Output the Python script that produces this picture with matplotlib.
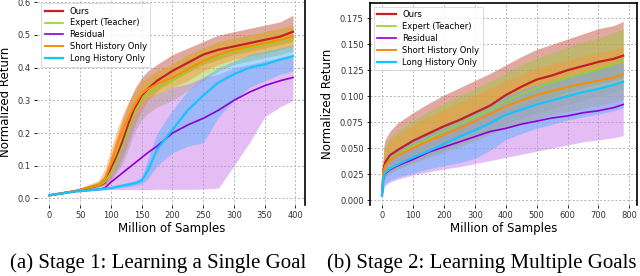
import numpy as np
import matplotlib
matplotlib.use("Agg")
import matplotlib.pyplot as plt

# ---- Stage 1 data (Million of Samples) ----
x_a = [0, 40, 80, 90, 100, 110, 120, 130, 140, 150, 160, 175, 200, 225, 250, 275, 300, 325, 350, 375, 396]
ours_a = [0.010, 0.022, 0.040, 0.048, 0.090, 0.130, 0.180, 0.235, 0.280, 0.315, 0.335, 0.360, 0.390, 0.415, 0.440, 0.455, 0.465, 0.475, 0.485, 0.495, 0.510]
ours_a_lo = [0.008, 0.020, 0.035, 0.042, 0.060, 0.090, 0.130, 0.180, 0.230, 0.270, 0.300, 0.330, 0.360, 0.385, 0.410, 0.425, 0.440, 0.450, 0.460, 0.470, 0.480]
ours_a_hi = [0.012, 0.025, 0.050, 0.070, 0.130, 0.190, 0.250, 0.300, 0.340, 0.370, 0.390, 0.410, 0.440, 0.460, 0.480, 0.500, 0.510, 0.520, 0.530, 0.540, 0.560]
expert_a = [0.010, 0.022, 0.040, 0.050, 0.080, 0.120, 0.165, 0.220, 0.270, 0.300, 0.320, 0.340, 0.360, 0.390, 0.415, 0.435, 0.450, 0.460, 0.470, 0.480, 0.490]
expert_a_lo = [0.008, 0.020, 0.035, 0.042, 0.055, 0.080, 0.110, 0.160, 0.210, 0.240, 0.260, 0.280, 0.300, 0.330, 0.360, 0.390, 0.410, 0.420, 0.430, 0.440, 0.450]
expert_a_hi = [0.012, 0.025, 0.050, 0.070, 0.110, 0.160, 0.220, 0.280, 0.320, 0.350, 0.370, 0.390, 0.410, 0.440, 0.460, 0.480, 0.490, 0.500, 0.510, 0.520, 0.530]
resid_a = [0.010, 0.022, 0.028, 0.032, 0.050, 0.065, 0.080, 0.095, 0.110, 0.125, 0.140, 0.160, 0.200, 0.225, 0.245, 0.270, 0.300, 0.325, 0.345, 0.360, 0.370]
resid_a_lo = [0.008, 0.019, 0.025, 0.026, 0.027, 0.027, 0.027, 0.027, 0.027, 0.027, 0.027, 0.028, 0.028, 0.028, 0.029, 0.032, 0.100, 0.170, 0.250, 0.280, 0.300]
resid_a_hi = [0.012, 0.025, 0.035, 0.050, 0.080, 0.130, 0.200, 0.260, 0.290, 0.300, 0.310, 0.320, 0.340, 0.350, 0.370, 0.380, 0.400, 0.410, 0.420, 0.430, 0.440]
short_a = [0.010, 0.022, 0.042, 0.060, 0.105, 0.165, 0.215, 0.255, 0.290, 0.320, 0.335, 0.350, 0.370, 0.395, 0.420, 0.440, 0.455, 0.465, 0.475, 0.485, 0.495]
short_a_lo = [0.008, 0.020, 0.036, 0.045, 0.070, 0.120, 0.170, 0.210, 0.250, 0.280, 0.300, 0.320, 0.340, 0.360, 0.390, 0.410, 0.425, 0.435, 0.445, 0.455, 0.465]
short_a_hi = [0.012, 0.025, 0.055, 0.090, 0.150, 0.210, 0.260, 0.300, 0.330, 0.360, 0.370, 0.390, 0.410, 0.440, 0.460, 0.480, 0.490, 0.500, 0.510, 0.520, 0.530]
long_a = [0.010, 0.021, 0.028, 0.030, 0.032, 0.036, 0.040, 0.043, 0.047, 0.055, 0.085, 0.150, 0.210, 0.270, 0.315, 0.355, 0.380, 0.400, 0.410, 0.425, 0.435]
long_a_lo = [0.008, 0.019, 0.025, 0.027, 0.029, 0.031, 0.034, 0.037, 0.040, 0.045, 0.060, 0.100, 0.140, 0.160, 0.170, 0.250, 0.300, 0.340, 0.360, 0.380, 0.390]
long_a_hi = [0.012, 0.023, 0.031, 0.033, 0.036, 0.040, 0.045, 0.050, 0.055, 0.065, 0.120, 0.200, 0.270, 0.330, 0.370, 0.400, 0.420, 0.440, 0.450, 0.460, 0.470]

# ---- Stage 2 data ----
x_b = [0, 5, 10, 25, 50, 100, 150, 200, 250, 300, 350, 400, 450, 500, 550, 600, 650, 700, 750, 780]
ours_b = [0.005, 0.030, 0.036, 0.043, 0.048, 0.057, 0.064, 0.071, 0.077, 0.084, 0.091, 0.101, 0.109, 0.116, 0.120, 0.125, 0.129, 0.133, 0.136, 0.139]
ours_b_lo = [0.003, 0.020, 0.026, 0.031, 0.036, 0.043, 0.050, 0.056, 0.062, 0.068, 0.074, 0.082, 0.089, 0.095, 0.099, 0.104, 0.108, 0.112, 0.115, 0.118]
ours_b_hi = [0.008, 0.050, 0.058, 0.066, 0.074, 0.084, 0.093, 0.101, 0.108, 0.115, 0.122, 0.130, 0.138, 0.145, 0.150, 0.155, 0.160, 0.165, 0.168, 0.172]
expert_b = [0.005, 0.028, 0.033, 0.039, 0.044, 0.052, 0.059, 0.066, 0.073, 0.080, 0.087, 0.095, 0.102, 0.108, 0.113, 0.118, 0.122, 0.126, 0.131, 0.135]
expert_b_lo = [0.003, 0.018, 0.022, 0.026, 0.030, 0.036, 0.042, 0.048, 0.054, 0.060, 0.066, 0.073, 0.079, 0.084, 0.088, 0.092, 0.096, 0.100, 0.104, 0.107]
expert_b_hi = [0.007, 0.045, 0.052, 0.060, 0.067, 0.076, 0.085, 0.093, 0.100, 0.107, 0.114, 0.122, 0.130, 0.137, 0.142, 0.147, 0.152, 0.156, 0.161, 0.165]
resid_b = [0.004, 0.021, 0.025, 0.029, 0.033, 0.039, 0.046, 0.051, 0.056, 0.061, 0.066, 0.069, 0.073, 0.076, 0.079, 0.081, 0.084, 0.086, 0.089, 0.092]
resid_b_lo = [0.002, 0.010, 0.014, 0.017, 0.020, 0.024, 0.027, 0.030, 0.032, 0.035, 0.038, 0.041, 0.044, 0.047, 0.050, 0.053, 0.056, 0.058, 0.060, 0.062]
resid_b_hi = [0.006, 0.033, 0.038, 0.043, 0.048, 0.055, 0.062, 0.068, 0.073, 0.078, 0.083, 0.087, 0.091, 0.095, 0.099, 0.102, 0.105, 0.108, 0.111, 0.114]
short_b = [0.005, 0.027, 0.032, 0.038, 0.043, 0.050, 0.057, 0.063, 0.069, 0.076, 0.083, 0.090, 0.096, 0.101, 0.105, 0.109, 0.112, 0.115, 0.118, 0.121]
short_b_lo = [0.003, 0.018, 0.022, 0.026, 0.030, 0.035, 0.041, 0.046, 0.051, 0.057, 0.063, 0.069, 0.074, 0.078, 0.082, 0.085, 0.088, 0.091, 0.094, 0.097]
short_b_hi = [0.007, 0.042, 0.050, 0.057, 0.063, 0.072, 0.080, 0.087, 0.094, 0.101, 0.108, 0.115, 0.121, 0.127, 0.131, 0.135, 0.139, 0.142, 0.145, 0.148]
long_b = [0.004, 0.022, 0.026, 0.030, 0.034, 0.041, 0.047, 0.054, 0.061, 0.067, 0.074, 0.082, 0.087, 0.092, 0.096, 0.100, 0.104, 0.107, 0.111, 0.114]
long_b_lo = [0.002, 0.012, 0.016, 0.019, 0.022, 0.026, 0.030, 0.033, 0.036, 0.040, 0.048, 0.058, 0.064, 0.069, 0.073, 0.077, 0.080, 0.083, 0.086, 0.089]
long_b_hi = [0.006, 0.035, 0.040, 0.045, 0.050, 0.058, 0.065, 0.072, 0.079, 0.086, 0.093, 0.100, 0.106, 0.111, 0.115, 0.119, 0.123, 0.126, 0.130, 0.133]

labels = ["Ours", "Expert (Teacher)", "Residual", "Short History Only", "Long History Only"]
colors = ["#c42025", "#8fd32e", "#8c00d6", "#ff8a00", "#14c4ff"]
band_colors = ["#c8624e", "#a2c443", "#c97de8", "#f59a3c", "#5cb0ff"]
band_alpha = [0.55, 0.5, 0.5, 0.5, 0.5]
widths = [1.6, 1.2, 1.2, 1.4, 1.6]

caption_font = "Liberation Serif"


def draw_panel(ax, x, series):
    for (y, lo, hi), lab, c, bc, a, w in zip(series, labels, colors, band_colors, band_alpha, widths):
        ax.fill_between(x, lo, hi, color=bc, alpha=a, linewidth=0)
        ax.plot(x, y, color=c, lw=w, label=lab)
    ax.grid(True, color="#b5b5b5", linestyle=(0, (2, 2)), linewidth=0.7)
    ax.set_axisbelow(True)
    ax.tick_params(labelsize=6, length=2.5, width=0.6, pad=2, labelcolor="#333333")
    ax.set_xlabel("Million of Samples", fontsize=8.5, labelpad=1)
    ax.set_ylabel("Normalized Return", fontsize=8.5, labelpad=4)
    leg = ax.legend(loc="upper left", fontsize=6, handlelength=2.2, frameon=True,
                    borderpad=0.4, labelspacing=0.35, fancybox=False, edgecolor="#cccccc")
    leg.get_frame().set_linewidth(0.6)


fig = plt.figure(figsize=(6.4, 2.76), dpi=100)

# Stage 1
ax1 = fig.add_axes([0.058, 0.2572, 0.419, 0.7464])
draw_panel(ax1, x_a, [(ours_a, ours_a_lo, ours_a_hi), (expert_a, expert_a_lo, expert_a_hi),
                      (resid_a, resid_a_lo, resid_a_hi), (short_a, short_a_lo, short_a_hi),
                      (long_a, long_a_lo, long_a_hi)])
ax1.set_xlim(-20, 416)
ax1.set_ylim(-0.02, 0.61)
ax1.set_xticks(np.arange(0, 401, 50))
ax1.set_yticks(np.arange(0, 0.61, 0.1))
ax1.set_yticklabels(["0.0", "0.1", "0.2", "0.3", "0.4", "0.5", "0.6"])
for s in ["left", "top", "bottom"]:
    ax1.spines[s].set_visible(False)
ax1.spines["right"].set_linewidth(1.2)

# Stage 2
ax2 = fig.add_axes([0.578, 0.2572, 0.417, 0.733])
draw_panel(ax2, x_b, [(ours_b, ours_b_lo, ours_b_hi), (expert_b, expert_b_lo, expert_b_hi),
                      (resid_b, resid_b_lo, resid_b_hi), (short_b, short_b_lo, short_b_hi),
                      (long_b, long_b_lo, long_b_hi)])
ax2.set_xlim(-39, 824)
ax2.set_ylim(-0.0048, 0.19)
ax2.set_xticks(np.arange(0, 801, 100))
ax2.set_yticks(np.arange(0, 0.176, 0.025))
ax2.set_yticklabels(["%.3f" % v for v in np.arange(0, 0.176, 0.025)])
ax2.spines["bottom"].set_visible(False)
for s in ["left", "top", "right"]:
    ax2.spines[s].set_linewidth(1.2)

# captions
fig.text(0.247, 0.03, "(a) Stage 1: Learning a Single Goal", ha="center",
         fontsize=15, family=caption_font)
fig.text(0.752, 0.03, "(b) Stage 2: Learning Multiple Goals", ha="center",
         fontsize=15, family=caption_font)

fig.savefig("out.png", dpi=100)
